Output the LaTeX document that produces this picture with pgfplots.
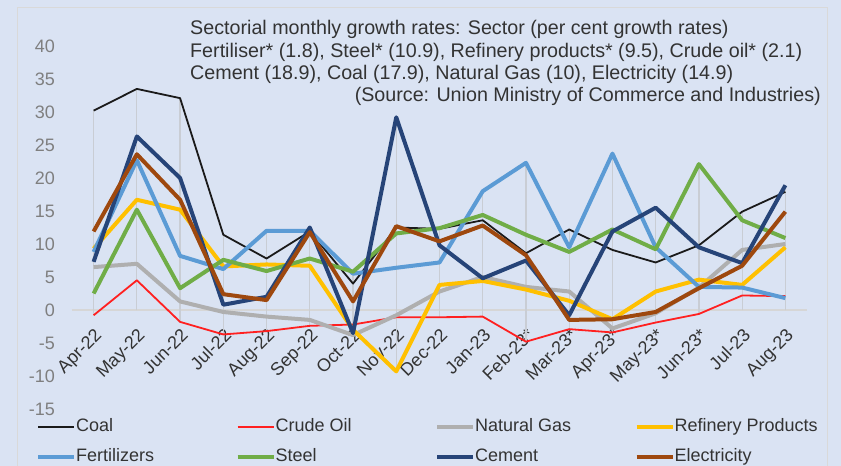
\documentclass[border=0pt]{standalone}
\usepackage{pgfplots}
\usepackage{pgfplotstable}
\pgfplotsset{compat=1.18}
\usepackage{fontspec}
\setmainfont{Liberation Sans}
\definecolor{bg}{HTML}{DAE3F3}
\definecolor{framec}{HTML}{D9D9D9}
\definecolor{zeroc}{HTML}{D6D6D6}
\definecolor{dropc}{HTML}{C9CDD4}
\definecolor{tickc}{HTML}{7F7F7F}
\definecolor{txtc}{HTML}{333333}
\definecolor{coalc}{HTML}{1A1A1A}
\definecolor{crudec}{HTML}{FF2020}
\definecolor{gasc}{HTML}{AFAFAF}
\definecolor{refc}{HTML}{FFC000}
\definecolor{fertc}{HTML}{5B9BD5}
\definecolor{steelc}{HTML}{70AD47}
\definecolor{cementc}{HTML}{264478}
\definecolor{elecc}{HTML}{9E480E}

\pgfplotstableread{
x coal crude gas ref fert steel cement elec
0 30.2 -0.8 6.5 9.3 8.8 2.5 7.3 11.9
1 33.5 4.5 7.0 16.7 22.7 15.2 26.3 23.6
2 32.1 -1.8 1.3 15.2 8.2 3.3 20.0 16.7
3 11.4 -3.7 -0.3 6.6 6.2 7.6 0.8 2.4
4 7.8 -3.2 -1.0 6.9 12.0 5.9 2.0 1.5
5 11.9 -2.4 -1.5 6.7 12.0 7.8 12.5 11.8
6 4.0 -2.2 -3.8 -3.0 5.5 5.8 -3.5 1.3
7 12.5 -1.1 -0.8 -9.3 6.4 11.6 29.2 12.7
8 12.3 -1.1 2.8 3.8 7.2 12.4 9.8 10.4
9 13.6 -1.0 5.0 4.4 18.0 14.4 4.8 12.8
10 8.6 -4.8 3.5 3.1 22.3 11.4 7.5 8.3
11 12.2 -2.9 2.8 1.4 9.5 8.8 -0.8 -1.5
12 9.1 -3.4 -2.8 -1.4 23.7 12.2 11.9 -1.4
13 7.2 -1.9 -0.5 2.8 9.5 9.2 15.5 -0.3
14 9.8 -0.6 3.4 4.6 3.5 22.1 9.5 3.3
15 14.9 2.2 9.1 3.8 3.4 13.6 7.1 6.7
16 17.9 2.1 10.0 9.5 1.8 10.9 18.9 14.9
}\datatable

\newcommand{\legtxt}[1]{\makebox[159.5pt][l]{#1}}

\begin{document}
\begin{tikzpicture}
\path[use as bounding box, fill=bg] (0pt,0pt) rectangle (841pt,466pt);
\draw[framec, line width=1pt] (17pt,-5pt) rectangle (827pt,458pt);
\begin{axis}[
  at={(72pt,57pt)}, anchor=south west,
  scale only axis, width=735pt, height=363pt,
  xmin=-0.5, xmax=16.5, ymin=-15, ymax=40,
  axis x line*=middle, axis y line*=left,
  x axis line style={draw=zeroc, line width=1.5pt},
  y axis line style={draw=none},
  hide obscured x ticks=false, hide obscured y ticks=false,
  major tick length=0pt,
  ytick={-15,-10,-5,0,5,10,15,20,25,30,35,40},
  yticklabels={-15,-10,-5,0,5,10,15,20,25,30,35,40},
  xtick={0,...,16},
  xticklabels={Apr-22,May-22,Jun-22,Jul-22,Aug-22,Sep-22,Oct-22,Nov-22,Dec-22,Jan-23,Feb-23*,Mar-23*,Apr-23*,May-23*,Jun-23*,Jul-23,Aug-23},
  yticklabel style={font=\fontsize{18}{20}\selectfont, text=tickc, inner sep=0pt},
  yticklabel shift=17pt,
  xticklabel style={font=\fontsize{18}{20}\selectfont, text=txtc, inner sep=0pt, rotate=45, anchor=north east},
  xticklabel shift=17pt,
  legend columns=4,
  legend cell align=left,
  legend style={at={(-0.049,-0.0262)}, anchor=north west, draw=none, fill=none,
    font=\fontsize{18}{20}\selectfont, text=txtc, inner sep=0pt, row sep=13pt,
    nodes={inner sep=0pt, text height=13pt, text depth=4pt},
    /tikz/every odd column/.append style={column sep=0pt},
    /tikz/every even column/.append style={column sep=0pt}},
  legend image code/.code={\draw[#1] (0pt,0pt) -- (36pt,0pt);},
  every axis plot/.append style={line join=round},
]
\addplot[dropc, line width=1.2pt, unbounded coords=jump, forget plot] coordinates {
 (0,-0.8) (0,30.2) (0,nan) (1,0) (1,33.5) (1,nan) (2,-1.8) (2,32.1) (2,nan)
 (3,-3.7) (3,11.4) (3,nan) (4,-3.2) (4,12.0) (4,nan) (5,-2.4) (5,12.5) (5,nan)
 (6,-3.8) (6,5.8) (6,nan) (7,-9.3) (7,29.2) (7,nan) (8,-1.1) (8,12.4) (8,nan)
 (9,-1.0) (9,18.0) (9,nan) (10,-4.8) (10,22.3) (10,nan) (11,-2.9) (11,12.2) (11,nan)
 (12,-3.4) (12,23.7) (12,nan) (13,-1.9) (13,15.5) (13,nan) (14,-0.6) (14,22.1) (14,nan)
 (15,0) (15,14.9) (15,nan) (16,0) (16,18.9)
};
\addplot[coalc, line width=1.8pt] table[x=x, y=coal] {\datatable};
\addlegendentry{\legtxt{Coal}}
\addplot[crudec, line width=1.8pt] table[x=x, y=crude] {\datatable};
\addlegendentry{\legtxt{Crude Oil}}
\addplot[gasc, line width=4pt] table[x=x, y=gas] {\datatable};
\addlegendentry{\legtxt{Natural Gas}}
\addplot[refc, line width=4pt] table[x=x, y=ref] {\datatable};
\addlegendentry{\legtxt{Refinery Products}}
\addplot[fertc, line width=4pt] table[x=x, y=fert] {\datatable};
\addlegendentry{\legtxt{Fertilizers}}
\addplot[steelc, line width=4pt] table[x=x, y=steel] {\datatable};
\addlegendentry{\legtxt{Steel}}
\addplot[cementc, line width=4pt] table[x=x, y=cement] {\datatable};
\addlegendentry{\legtxt{Cement}}
\addplot[elecc, line width=4pt] table[x=x, y=elec] {\datatable};
\addlegendentry{\legtxt{Electricity}}
\end{axis}
\begin{scope}[every node/.style={inner sep=0pt, text=txtc, font=\fontsize{19.7}{22}\selectfont}]
\node[anchor=base west] at (190pt,431pt) {Sectorial monthly growth rates: Sector (per cent growth rates)};
\node[anchor=base west] at (190pt,408.7pt) {Fertiliser* (1.8), Steel* (10.9), Refinery products* (9.5), Crude oil* (2.1)};
\node[anchor=base west] at (190pt,386.7pt) {Cement (18.9), Coal (17.9), Natural Gas (10), Electricity (14.9)};
\node[anchor=base east] at (821pt,364.3pt) {(Source: Union Ministry of Commerce and Industries)};
\end{scope}
\end{tikzpicture}
\end{document}
